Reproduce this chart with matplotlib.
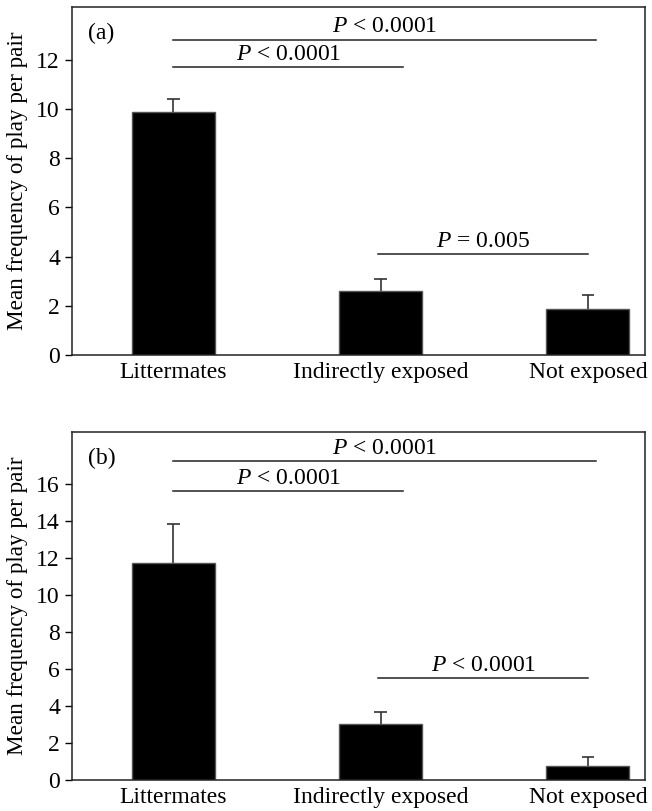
import numpy as np
import matplotlib
matplotlib.use('Agg')
import matplotlib.pyplot as plt

plt.rcParams['font.family'] = ['Liberation Serif', 'DejaVu Serif']
plt.rcParams['mathtext.fontset'] = 'custom'
plt.rcParams['mathtext.it'] = 'Liberation Serif:italic'
plt.rcParams['mathtext.rm'] = 'Liberation Serif'

groups = ['Littermates', 'Indirectly exposed', 'Not exposed']

means_a = [9.9, 2.6, 1.86]
upper_a = [10.42, 3.08, 2.44]
means_b = [11.72, 3.01, 0.76]
upper_b = [13.88, 3.7, 1.23]

# significance bars: (x start, x end, y, label)
sig_a = [(0.0, 2.04, 12.83, r'$P$ < 0.0001'),
         (0.0, 1.11, 11.72, r'$P$ < 0.0001'),
         (0.99, 2.0, 4.1, r'$P$ = 0.005')]
sig_b = [(0.0, 2.04, 17.25, r'$P$ < 0.0001'),
         (0.0, 1.11, 15.64, r'$P$ < 0.0001'),
         (0.99, 2.0, 5.5, r'$P$ < 0.0001')]

fs = 17

fig = plt.figure(figsize=(6.52, 8.11), dpi=100)
ax1 = fig.add_axes([0.110, 0.5623, 0.879, 0.429])
ax2 = fig.add_axes([0.110, 0.0382, 0.879, 0.429])

panels = [(ax1, means_a, upper_a, sig_a, '(a)', 14.15, np.arange(0, 13, 2)),
          (ax2, means_b, upper_b, sig_b, '(b)', 18.83, np.arange(0, 17, 2))]

x = np.arange(len(groups))
for ax, m, up, sig, lab, ymax, ticks in panels:
    # upper-only error bars
    ax.vlines(x, m, up, color='#333333', lw=1.2, zorder=1)
    ax.hlines(up, x - 0.03, x + 0.03, color='#333333', lw=1.2, zorder=1)
    ax.bar(x, m, width=0.4, color='black', edgecolor='#555555', linewidth=1, zorder=2)
    for x0, x1, y, t in sig:
        ax.plot([x0, x1], [y, y], color='#222222', lw=1.1)
        ax.text((x0 + x1) / 2, y + ymax * 0.006, t, ha='center', va='bottom', fontsize=fs)
    ax.text(-0.41, ymax * 0.925, lab, fontsize=fs, va='center')
    ax.set_xlim(-0.49, 2.275)
    ax.set_ylim(0, ymax)
    ax.set_yticks(ticks)
    ax.set_xticks(x)
    ax.set_xticklabels(groups)
    ax.tick_params(axis='x', length=0, labelsize=fs, pad=5)
    ax.tick_params(axis='y', direction='out', length=5, labelsize=fs, width=1)
    ax.set_ylabel('Mean frequency of play per pair', fontsize=16.7, labelpad=6)
    for s in ax.spines.values():
        s.set_linewidth(1.1)
        s.set_color('#222222')

fig.savefig('out.png', dpi=100)
